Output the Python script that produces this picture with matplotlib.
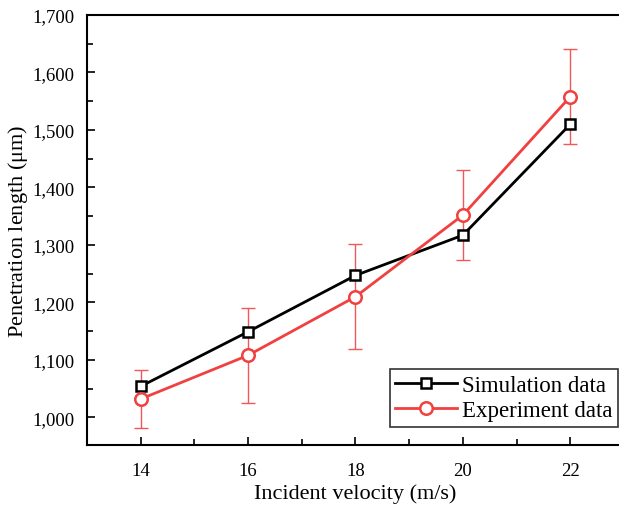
import matplotlib.pyplot as plt
from matplotlib.ticker import FuncFormatter, MultipleLocator

plt.rcParams['font.family'] = ['Liberation Serif', 'DejaVu Serif']
plt.rcParams['mathtext.fontset'] = 'stix'

# incident velocity (m/s)
velocity = [14, 16, 18, 20, 22]
# penetration length (um)
simulation = [1054, 1149, 1247, 1317, 1510]
experiment = [1032, 1108, 1210, 1352, 1558]
experiment_err = [50, 83, 91, 78, 82]

fig = plt.figure(figsize=(6.19, 5.10), dpi=100)
ax = fig.add_axes([87 / 619, 1 - 446 / 510, 537 / 619, 430 / 510])

red = '#f04040'
ax.errorbar(velocity, experiment, yerr=experiment_err, fmt='none',
            ecolor='#f05858', elinewidth=1.0, capsize=5, capthick=1.0, zorder=2)
ax.plot(velocity, simulation, color='black', lw=2, marker='s', ms=7,
        mfc='white', mec='black', mew=1.8, label='Simulation data', zorder=3)
ax.plot(velocity, experiment, color=red, lw=2, marker='o', ms=9,
        mfc='white', mec=red, mew=1.8, label='Experiment data', zorder=4)

ax.set_xlim(13, 23)
ax.set_ylim(952, 1700)
ax.xaxis.set_major_locator(MultipleLocator(2))
ax.xaxis.set_minor_locator(MultipleLocator(1))
ax.yaxis.set_major_locator(MultipleLocator(100))
ax.yaxis.set_minor_locator(MultipleLocator(50))
ax.yaxis.set_major_formatter(FuncFormatter(lambda v, p: f'{int(v):,}'))
ax.tick_params(which='both', direction='in', top=False, right=False,
               labelsize=13.5, width=1.2)
ax.tick_params(which='major', length=6)
ax.tick_params(which='minor', length=4)
ax.tick_params(axis='x', pad=12)
ax.tick_params(axis='y', pad=9)
for s in ax.spines.values():
    s.set_linewidth(1.5)

ax.set_xlabel('Incident velocity (m/s)', fontsize=16, va='center')
ax.set_ylabel('Penetration length ($\\mathregular{\\mu}$m)', fontsize=16,
              va='center')
ax.xaxis.set_label_coords(0.5, -48 / 430)
ax.yaxis.set_label_coords(-69 / 537, 0.5)

leg = ax.legend(loc='lower right', bbox_to_anchor=(531 / 537, 18 / 430),
                fontsize=16.5, frameon=True, fancybox=False, edgecolor='black',
                handlelength=2.7, handletextpad=0.2, borderpad=0.25,
                labelspacing=0.2, borderaxespad=0)
leg.get_frame().set_linewidth(1.2)

fig.savefig('out.png', dpi=100)
